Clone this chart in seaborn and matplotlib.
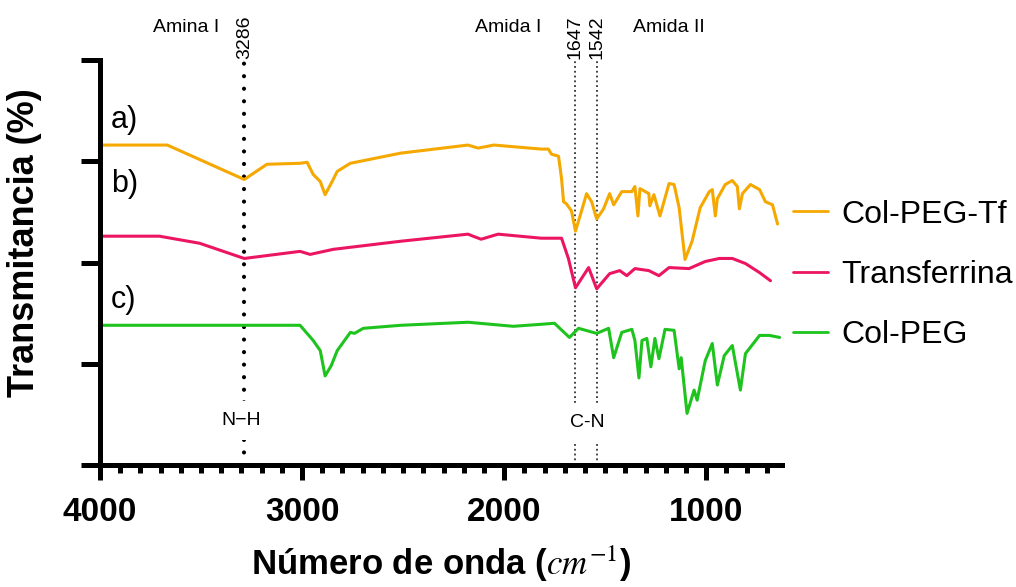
import numpy as np
import pandas as pd
import matplotlib
matplotlib.use("Agg")
import matplotlib.pyplot as plt
import seaborn as sns
from matplotlib.ticker import MultipleLocator

# ---------- datos ----------
muestras = ["Col-PEG-Tf", "Transferrina", "Col-PEG"]
colores = ["#F5A800", "#EC1561", "#1EC31E"]

wn_tf = [4000, 3667, 3286, 3174, 3010, 2975, 2945, 2910, 2886, 2851, 2826, 2761, 2512,
         2179, 2129, 2050, 1816, 1781, 1766, 1731, 1716, 1706, 1692, 1667, 1647, 1617,
         1592, 1567, 1542, 1508, 1478, 1458, 1418, 1368, 1353, 1338, 1328, 1284, 1279,
         1259, 1229, 1184, 1159, 1134, 1105, 1070, 1030, 985, 970, 955, 945, 906, 871,
         846, 836, 821, 781, 736, 707, 672, 647]
t_tf = [316, 316, 282, 297, 298, 299, 287, 280, 267, 280, 290, 298, 308,
        316, 313, 316, 312, 312, 307, 305, 283, 260, 258, 251, 231, 251,
        268, 260, 243, 253, 268, 257, 270, 270, 275, 246, 273, 268, 256,
        267, 246, 278, 277, 254, 203, 221, 254, 270, 272, 246, 263, 277, 281,
        275, 253, 268, 277, 272, 260, 257, 238]

wn_transf = [4000, 3706, 3507, 3286, 3010, 2960, 2846, 2512, 2179, 2154, 2114, 2030,
             1816, 1716, 1682, 1647, 1582, 1542, 1478, 1428, 1393, 1353, 1284, 1234,
             1184, 1085, 1005, 935, 871, 806, 736, 682]
t_transf = [226, 226, 219, 204, 211, 208, 213, 221, 228, 226, 223, 228,
            224, 224, 204, 175, 195, 174, 189, 192, 187, 194, 192, 187,
            195, 194, 201, 204, 204, 199, 190, 182]

wn_peg = [4000, 3010, 2945, 2910, 2886, 2856, 2826, 2761, 2741, 2697, 2512, 2179, 1955,
          1816, 1751, 1677, 1632, 1542, 1483, 1458, 1418, 1368, 1353, 1333, 1318, 1294,
          1274, 1254, 1234, 1204, 1159, 1134, 1124, 1095, 1060, 1045, 1005, 970, 945,
          911, 871, 831, 806, 736, 687, 637]
t_peg = [138, 138, 123, 113, 88, 98, 113, 131, 130, 135, 138, 141, 137,
         139, 140, 126, 135, 130, 135, 106, 131, 134, 123, 86, 123, 125,
         97, 125, 105, 134, 133, 95, 106, 51, 74, 64, 103, 120, 79,
         108, 118, 74, 110, 128, 128, 126]

bandas = [3286, 1647, 1542]
regiones = [("Amina I", 3572), ("Amida I", 1980), ("Amida II", 1184)]

# ---------- tabla larga ----------
df = pd.concat([
    pd.DataFrame({"wn": wn_tf, "T": t_tf, "muestra": muestras[0]}),
    pd.DataFrame({"wn": wn_transf, "T": t_transf, "muestra": muestras[1]}),
    pd.DataFrame({"wn": wn_peg, "T": t_peg, "muestra": muestras[2]}),
], ignore_index=True)

sns.set_style("ticks")
plt.rcParams["font.family"] = ["Liberation Sans", "DejaVu Sans"]
plt.rcParams["mathtext.fontset"] = "stix"
for k in ["text.color", "axes.labelcolor", "xtick.color", "ytick.color", "axes.edgecolor"]:
    plt.rcParams[k] = "black"

fig = plt.figure(figsize=(10.16, 5.87), dpi=100)
ax = fig.add_axes([0.0984, 0.2078, 0.6713, 0.69])

sns.lineplot(data=df, x="wn", y="T", hue="muestra", hue_order=muestras,
             palette=dict(zip(muestras, colores)), sort=False, estimator=None,
             linewidth=2.2, ax=ax)

ax.set_xlim(4000, 625)
ax.set_ylim(0, 400)

# lineas de bandas
ax.axvline(bandas[0], color="black", linestyle=(0, (0.01, 3)), linewidth=3,
           dash_capstyle="round", zorder=1)
for b in bandas[1:]:
    ax.axvline(b, color="#333333", linestyle=":", linewidth=1.3, zorder=1)

for b in bandas:
    ax.text(b, 401, str(b), rotation=90, ha="center", va="bottom", fontsize=14, clip_on=False)
for nombre, x in regiones:
    ax.text(x, 432, nombre, ha="center", va="center", fontsize=14, clip_on=False)

bb = dict(facecolor="white", edgecolor="none", pad=8)
ax.text(3300, 44, "N\u2212H", ha="center", va="center", fontsize=14, bbox=bb, zorder=5)
ax.text(1590, 42, "C-N", ha="center", va="center", fontsize=14, bbox=bb, zorder=5)

for lab, y in [("a)", 341), ("b)", 278), ("c)", 163)]:
    ax.text(3945, y, lab, ha="left", va="center", fontsize=22)

# ejes
for s in ["top", "right"]:
    ax.spines[s].set_visible(False)
for s in ["left", "bottom"]:
    ax.spines[s].set_linewidth(3.6)
ax.set_yticks([0, 100, 200, 300, 400])
ax.set_yticklabels([])
ax.xaxis.set_major_locator(MultipleLocator(1000))
ax.xaxis.set_minor_locator(MultipleLocator(100))
ax.tick_params(axis="y", length=14, width=3.6)
ax.tick_params(axis="x", which="major", length=11, width=3.6, pad=12, labelsize=24)
ax.tick_params(axis="x", which="minor", length=6, width=3.6)
for l in ax.get_xticklabels():
    l.set_fontweight("bold")

ax.set_xlabel(r"Número de onda ($cm^{-1}$)", fontsize=25, fontweight="bold", labelpad=11)
ax.set_ylabel("Transmitancia (%)", fontsize=26, fontweight="bold")
ax.yaxis.set_label_coords(-0.085, 0.548)

leg = ax.legend(loc="upper left", bbox_to_anchor=(0.7805, 0.66), bbox_transform=fig.transFigure,
                frameon=False, fontsize=23, handlelength=1.1, handletextpad=0.4,
                labelspacing=0.95, borderpad=0, borderaxespad=0)
for h in leg.get_lines():
    h.set_linewidth(2)

fig.savefig("out.png", dpi=100)
